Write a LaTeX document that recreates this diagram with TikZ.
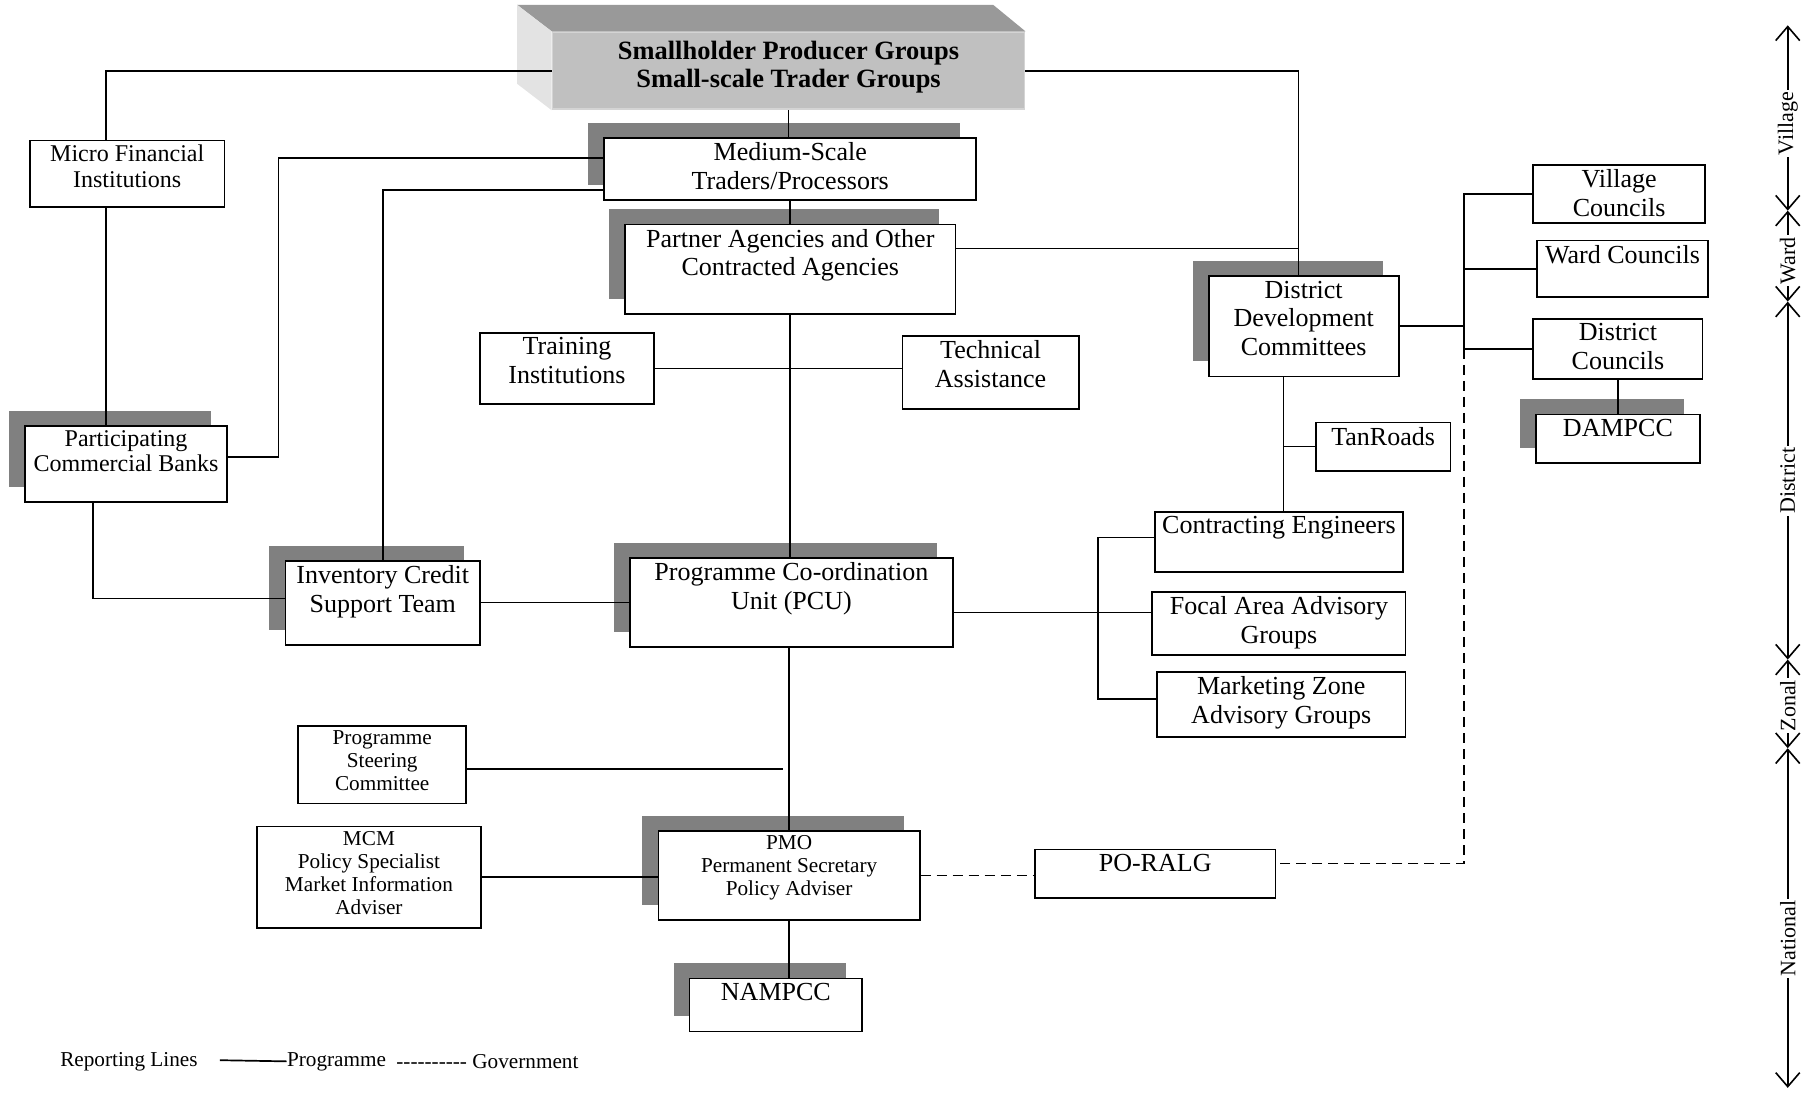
\documentclass[tikz,border=0pt]{standalone}
\usepackage{fontspec}
\setmainfont{Liberation Serif}
\usetikzlibrary{fit,shadows,arrows.meta}
\definecolor{shadowgray}{HTML}{808080}
\definecolor{facefront}{HTML}{C0C0C0}
\definecolor{facetop}{HTML}{999999}
\definecolor{faceside}{HTML}{E3E3E3}
\definecolor{faceedge}{HTML}{D4D4D4}

\tikzset{
  unit/.style = {draw, fill = white, line width = 0.9pt, inner sep = 0pt},
  shade/.style = {drop shadow = {shadow xshift = -8pt, shadow yshift = 7.5pt, opacity = 1, fill = shadowgray, draw = none}},
  txt/.style = {anchor = north, align = center, inner sep = 2.5pt, font = \fontsize{13}{14.4}\selectfont},
  txtm/.style = {txt, font = \fontsize{12}{12.8}\selectfont},
  txts/.style = {txt, font = \fontsize{10.6}{11.5}\selectfont},
  link/.style = {line width = 0.85pt},
  govlink/.style = {link, dash pattern = on 5pt off 3pt},
  level/.style = {line width = 0.8pt, {Straight Barb[length = 7pt, width = 12pt]}-{Straight Barb[length = 7pt, width = 12pt]}},
  levelname/.style = {fill = white, rotate = 90, inner sep = 1pt, font = \fontsize{11}{12}\selectfont},
  legend/.style = {anchor = west, inner sep = 0pt, font = \fontsize{10.6}{12}\selectfont}
}

\begin{document}
\begin{tikzpicture}[x = 0.575pt, y = -0.575pt]

        \useasboundingbox (0, 0) rectangle (1568, 952);

        % Producer groups
        \node [unit, fill = facefront, draw = faceedge, fit = {(480, 28) (890, 95)}, label = {[txt, yshift = -2pt, font = \bfseries\fontsize{13.2}{14.4}\selectfont]north:Smallholder Producer Groups\\Small-scale Trader Groups}] (spg) {};
        \fill [facetop] (spg.north west) -- ++(-30, -23) -- ([shift = {(-28, -23)}]spg.north east) -- (spg.north east) -- cycle;
        \fill [faceside] (spg.north west) -- ++(-30, -23) -- ([shift = {(-30, -23)}]spg.south west) -- (spg.south west) -- cycle;

        % Finance side
        \node [unit, fit = {(26, 122) (195, 180)}, label = {[txtm]north:Micro Financial\\Institutions}] (mfi) {};
        \node [unit, shade, fit = {(22, 370) (197, 436)}, label = {[txtm]north:Participating\\Commercial Banks}] (pcb) {};
        \node [unit, shade, fit = {(248, 487) (417, 560)}, label = {[txt]north:Inventory Credit\\Support Team}] (icst) {};

        % Programme side
        \node [unit, shade, fit = {(525, 120) (848, 174)}, label = {[txt]north:Medium-Scale\\Traders/Processors}] (mst) {};
        \node [unit, shade, fit = {(543, 195) (830, 273)}, label = {[txt]north:Partner Agencies and Other\\Contracted Agencies}] (par) {};
        \node [unit, fit = {(417, 289) (568, 351)}, label = {[txt]north:Training\\Institutions}] (tri) {};
        \node [unit, fit = {(784, 292) (937, 355)}, label = {[txt]north:Technical\\Assistance}] (tas) {};
        \node [unit, shade, fit = {(547, 485) (828, 562)}, label = {[txt]north:Programme Co-ordination\\Unit (PCU)}] (pcu) {};
        \node [unit, fit = {(259, 631) (405, 698)}, label = {[txts]north:Programme\\Steering\\Committee}] (psc) {};
        \node [unit, fit = {(223, 718) (418, 806)}, label = {[txts]north:MCM\\Policy Specialist\\Market Information\\Adviser}] (mcm) {};
        \node [unit, shade, fit = {(572, 722) (799, 799)}, label = {[txts]north:PMO\\Permanent Secretary\\Policy Adviser}] (pmo) {};
        \node [unit, shade, fit = {(599, 850) (749, 896)}, label = {[txt]north:NAMPCC}] (nam) {};
        \node [unit, fit = {(899, 738) (1108, 780)}, label = {[txt]north:PO-RALG}] (por) {};

        % District side
        \node [unit, shade, fit = {(1050, 240) (1215, 327)}, label = {[txt]north:District\\Development\\Committees}] (ddc) {};
        \node [unit, fit = {(1332, 143) (1481, 194)}, label = {[txt]north:Village\\Councils}] (vic) {};
        \node [unit, fit = {(1335, 209) (1484, 258)}, label = {[txt]north:Ward Councils}] (wac) {};
        \node [unit, fit = {(1332, 277) (1479, 329)}, label = {[txt]north:District\\Councils}] (dic) {};
        \node [unit, shade, fit = {(1334, 360) (1477, 402)}, label = {[txt]north:DAMPCC}] (dam) {};
        \node [unit, fit = {(1143, 367) (1260, 409)}, label = {[txt]north:TanRoads}] (tan) {};
        \node [unit, fit = {(1003, 445) (1219, 497)}, label = {[txt]north:Contracting Engineers}] (ceng) {};
        \node [unit, fit = {(1001, 514) (1221, 569)}, label = {[txt]north:Focal Area Advisory\\Groups}] (fag) {};
        \node [unit, fit = {(1005, 584) (1221, 640)}, label = {[txt]north:Marketing Zone\\Advisory Groups}] (mzg) {};

        % Programme lines
        \draw [link] (spg.west) -| (mfi.north -| 92, 0);
        \draw [link] (spg.east) -| (ddc.north -| 1128, 0);
        \draw [link] (spg.south) -- (spg.south |- mst.north);
        \draw [link] (mfi.south -| 92, 0) -- (pcb.north -| 92, 0);
        \draw [link] (mst.west |- 0, 137) -- (242, 137) |- (pcb.east |- 0, 397);
        \draw [link] (mst.west |- 0, 165) -| (icst.north);
        \draw [link] (mst.south) -- (par.north);
        \draw [link] (par.east |- 0, 216) -| (ddc.north -| 1128, 0);
        \draw [link] (par.south) -- (par.south |- pcu.north);
        \draw [link] (tri.east) -- (tri.east -| tas.west);
        \draw [link] (ddc.east) -- (ddc.east -| 1272, 0);
        \draw [link] (vic.west) -| (dic.west -| 1272, 0);
        \draw [link] (wac.west) -- (wac.west -| 1272, 0);
        \draw [link] (dic.west) -- (dic.west -| 1272, 0);
        \draw [link] (dic.south) -- (dam.north);
        \draw [link] (ddc.south -| 1115, 0) -- (ceng.north -| 1115, 0);
        \draw [link] (tan.west -| 1115, 0) -- (tan.west);
        \draw [link] (pcu.east |- 0, 532) -- (fag.west |- 0, 532);
        \draw [link] (ceng.west |- 0, 467) -| (954, 607) -- (mzg.west |- 0, 607);
        \draw [link] (pcb.south -| 81, 0) |- (icst.west |- 0, 520);
        \draw [link] (icst.east) -- (icst.east -| pcu.west);
        \draw [link] (pmo.north |- pcu.south) -- (pmo.north);
        \draw [link] (psc.east |- 0, 668) -- (680, 668);
        \draw [link] (mcm.east) -- (mcm.east -| pmo.west);
        \draw [link] (pmo.south) -- (pmo.south |- nam.north);

        % Government lines
        \draw [govlink] (pmo.east) -- (pmo.east -| por.west);
        \draw [govlink] (dic.west -| 1272, 0) |- (por.east |- 0, 750);

        % Levels
        \coordinate (lv0) at (1553, 22);
        \coordinate (lv1) at (1553, 183);
        \coordinate (lv2) at (1553, 262);
        \coordinate (lv3) at (1553, 573);
        \coordinate (lv4) at (1553, 650);
        \coordinate (lv5) at (1553, 945);
        \draw [level] (lv0) -- node [levelname, pos = 0.53] (vil) {Village} (lv1);
        \draw [level] (lv1) -- node [levelname, pos = 0.55] (war) {Ward} (lv2);
        \draw [level] (lv2) -- node [levelname, pos = 0.5] (dis) {District} (lv3);
        \draw [level] (lv3) -- node [levelname, pos = 0.52] (zon) {Zonal} (lv4);
        \draw [level] (lv4) -- node [levelname, pos = 0.56] (nat) {National} (lv5);

        % Legend
        \node [legend] (rep) at (52, 922) {Reporting Lines};
        \node [legend] (prg) at (249, 922) {Programme};
        \node [legend] (gov) at (344, 922) {\hbox{-}\hbox{-}\hbox{-}\hbox{-}\hbox{-}\hbox{-}\hbox{-}\hbox{-}\hbox{-}\hbox{-} Government};
        \coordinate (lgs) at (191, 921);
        \draw [link] (lgs) -- (prg.west);

\end{tikzpicture}
\end{document}
